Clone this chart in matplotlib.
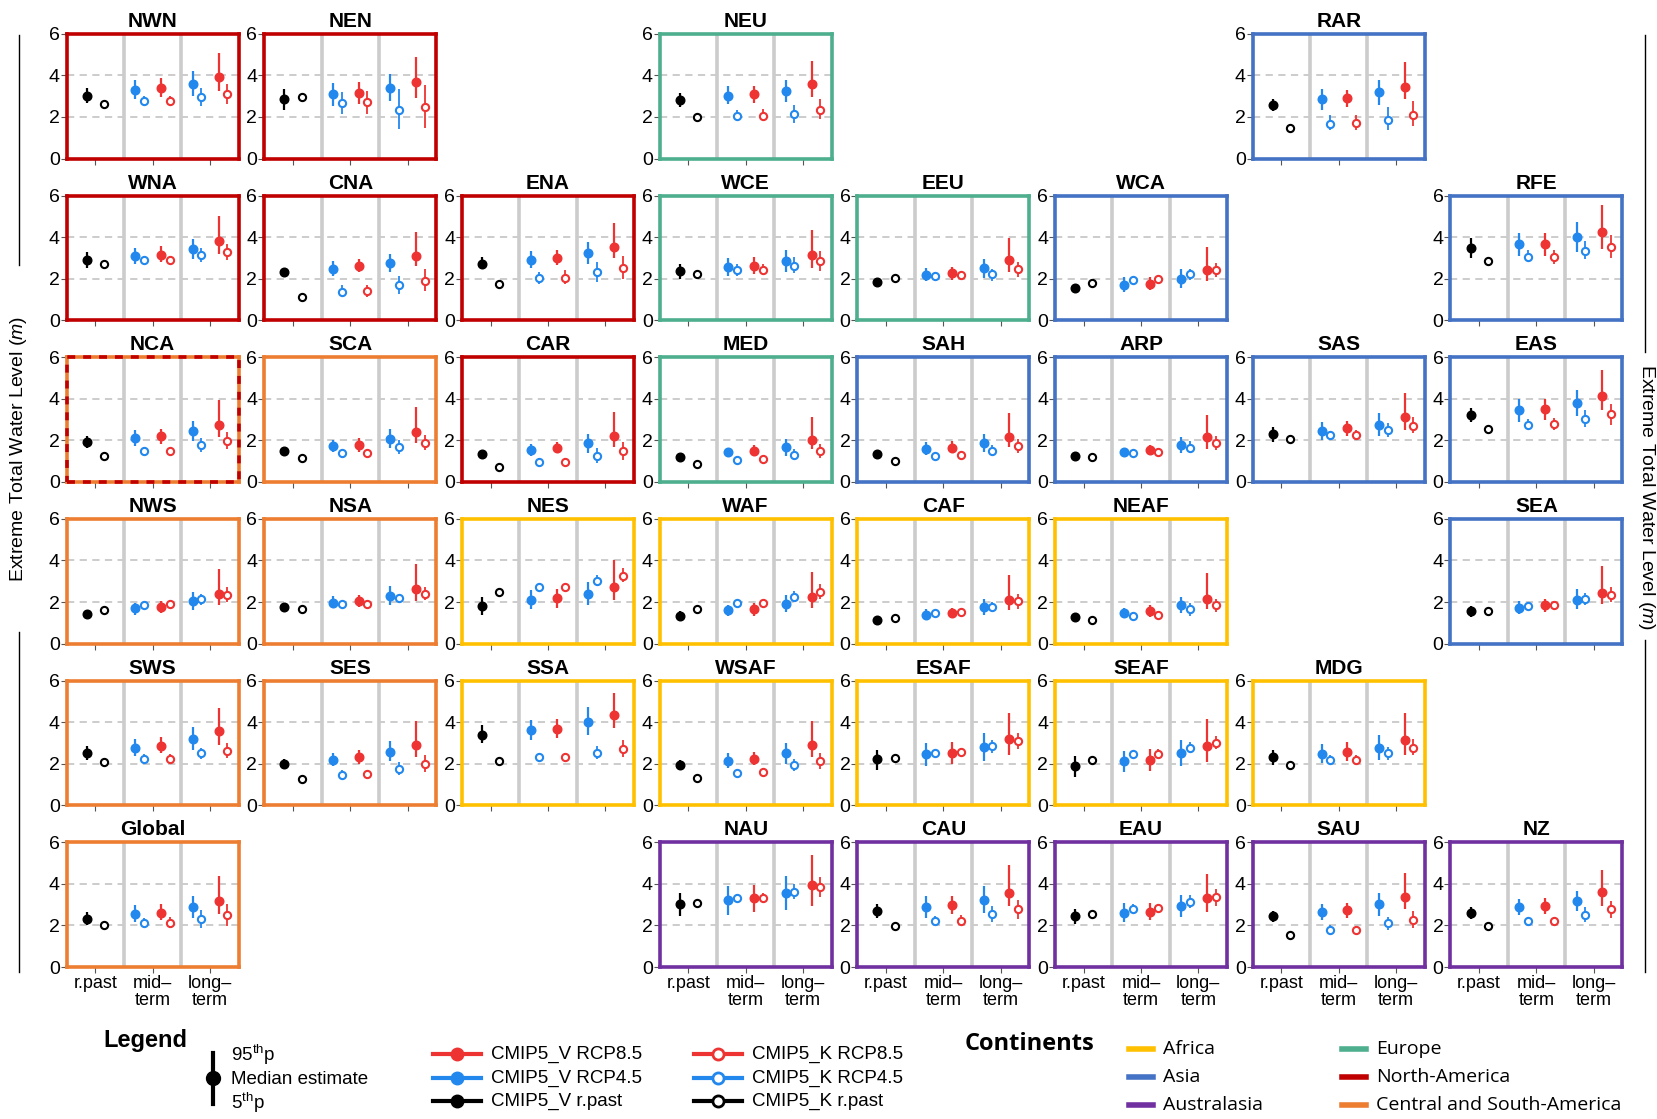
import matplotlib
matplotlib.use('Agg')
import matplotlib.pyplot as plt
from matplotlib.lines import Line2D
from matplotlib.patches import Rectangle

plt.rcParams['font.family'] = 'Liberation Sans'
plt.rcParams['mathtext.fontset'] = 'custom'
plt.rcParams['mathtext.rm'] = 'Liberation Sans'
plt.rcParams['mathtext.it'] = 'Liberation Sans:italic'

W, H = 1657, 1119

# panel layout: name, grid row, grid column, continent
regions = ['NWN', 'NEN', 'NEU', 'RAR',
           'WNA', 'CNA', 'ENA', 'WCE', 'EEU', 'WCA', 'RFE',
           'NCA', 'SCA', 'CAR', 'MED', 'SAH', 'ARP', 'SAS', 'EAS',
           'NWS', 'NSA', 'NES', 'WAF', 'CAF', 'NEAF', 'SEA',
           'SWS', 'SES', 'SSA', 'WSAF', 'ESAF', 'SEAF', 'MDG',
           'Global', 'NAU', 'CAU', 'EAU', 'SAU', 'NZ']
grid_row = [0, 0, 0, 0,
            1, 1, 1, 1, 1, 1, 1,
            2, 2, 2, 2, 2, 2, 2, 2,
            3, 3, 3, 3, 3, 3, 3,
            4, 4, 4, 4, 4, 4, 4,
            5, 5, 5, 5, 5, 5]
grid_col = [0, 1, 3, 6,
            0, 1, 2, 3, 4, 5, 7,
            0, 1, 2, 3, 4, 5, 6, 7,
            0, 1, 2, 3, 4, 5, 7,
            0, 1, 2, 3, 4, 5, 6,
            0, 3, 4, 5, 6, 7]
continent = ['NA', 'NA', 'EU', 'AS',
             'NA', 'NA', 'NA', 'EU', 'EU', 'AS', 'AS',
             'NCA', 'CSA', 'NA', 'EU', 'AS', 'AS', 'AS', 'AS',
             'CSA', 'CSA', 'AF', 'AF', 'AF', 'AF', 'AS',
             'CSA', 'CSA', 'AF', 'AF', 'AF', 'AF', 'AF',
             'CSA', 'AU', 'AU', 'AU', 'AU', 'AU']

# order of the 10 estimates in each panel:
# V r.past, K r.past, V45 mid, K45 mid, V85 mid, K85 mid, V45 long, K45 long, V85 long, K85 long
median = {
    'NWN': [3.0, 2.63, 3.29, 2.75, 3.39, 2.79, 3.6, 2.95, 3.9, 3.1],
    'NEN': [2.84, 2.95, 3.1, 2.66, 3.16, 2.7, 3.39, 2.35, 3.68, 2.48],
    'NEU': [2.82, 1.98, 3.02, 2.05, 3.1, 2.06, 3.26, 2.13, 3.58, 2.34],
    'RAR': [2.58, 1.48, 2.84, 1.65, 2.89, 1.69, 3.19, 1.86, 3.45, 2.09],
    'WNA': [2.9, 2.69, 3.08, 2.9, 3.16, 2.9, 3.42, 3.13, 3.83, 3.26],
    'CNA': [2.32, 1.11, 2.47, 1.37, 2.6, 1.39, 2.74, 1.68, 3.08, 1.87],
    'ENA': [2.69, 1.75, 2.92, 2.02, 3.0, 2.04, 3.21, 2.32, 3.54, 2.51],
    'WCE': [2.37, 2.23, 2.54, 2.41, 2.62, 2.43, 2.84, 2.62, 3.15, 2.84],
    'EEU': [1.85, 2.05, 2.18, 2.15, 2.25, 2.18, 2.5, 2.2, 2.89, 2.44],
    'WCA': [1.53, 1.8, 1.7, 1.95, 1.76, 2.0, 2.0, 2.22, 2.42, 2.4],
    'RFE': [3.48, 2.86, 3.66, 3.05, 3.66, 3.05, 4.02, 3.35, 4.23, 3.53],
    'NCA': [1.92, 1.24, 2.11, 1.48, 2.19, 1.48, 2.45, 1.79, 2.76, 1.97],
    'SCA': [1.47, 1.13, 1.73, 1.37, 1.77, 1.4, 2.08, 1.68, 2.4, 1.89],
    'CAR': [1.32, 0.71, 1.53, 0.95, 1.65, 0.98, 1.85, 1.27, 2.21, 1.47],
    'MED': [1.21, 0.84, 1.42, 1.05, 1.5, 1.08, 1.66, 1.29, 2.0, 1.47],
    'SAH': [1.35, 1.02, 1.6, 1.25, 1.65, 1.28, 1.86, 1.49, 2.17, 1.73],
    'ARP': [1.25, 1.22, 1.44, 1.41, 1.52, 1.44, 1.77, 1.65, 2.14, 1.86],
    'SAS': [2.3, 2.06, 2.43, 2.25, 2.58, 2.27, 2.76, 2.51, 3.11, 2.71],
    'EAS': [3.22, 2.53, 3.45, 2.75, 3.52, 2.77, 3.79, 3.03, 4.13, 3.27],
    'NWS': [1.43, 1.63, 1.7, 1.86, 1.76, 1.9, 2.05, 2.13, 2.4, 2.34],
    'NSA': [1.76, 1.65, 1.97, 1.89, 2.05, 1.92, 2.3, 2.18, 2.62, 2.4],
    'NES': [1.81, 2.47, 2.12, 2.7, 2.18, 2.72, 2.41, 3.03, 2.72, 3.26],
    'WAF': [1.35, 1.68, 1.6, 1.95, 1.65, 1.97, 1.89, 2.25, 2.25, 2.5],
    'CAF': [1.15, 1.23, 1.4, 1.47, 1.47, 1.5, 1.78, 1.78, 2.1, 2.03],
    'NEAF': [1.27, 1.13, 1.48, 1.35, 1.55, 1.38, 1.84, 1.65, 2.17, 1.87],
    'SEA': [1.55, 1.57, 1.73, 1.81, 1.84, 1.84, 2.12, 2.14, 2.45, 2.33],
    'SWS': [2.5, 2.09, 2.78, 2.25, 2.86, 2.25, 3.2, 2.5, 3.57, 2.63],
    'SES': [1.97, 1.27, 2.2, 1.48, 2.34, 1.51, 2.58, 1.76, 2.91, 2.0],
    'SSA': [3.4, 2.12, 3.62, 2.3, 3.68, 2.3, 4.03, 2.53, 4.36, 2.71],
    'WSAF': [1.92, 1.32, 2.14, 1.56, 2.25, 1.6, 2.53, 1.92, 2.88, 2.12],
    'ESAF': [2.23, 2.26, 2.45, 2.53, 2.53, 2.56, 2.81, 2.84, 3.19, 3.11],
    'SEAF': [1.9, 2.2, 2.15, 2.45, 2.2, 2.48, 2.53, 2.78, 2.86, 3.0],
    'MDG': [2.31, 1.93, 2.48, 2.2, 2.56, 2.2, 2.78, 2.51, 3.14, 2.76],
    'Global': [2.33, 2.0, 2.56, 2.12, 2.62, 2.14, 2.87, 2.29, 3.19, 2.48],
    'NAU': [3.05, 3.08, 3.2, 3.34, 3.3, 3.34, 3.58, 3.62, 3.95, 3.85],
    'CAU': [2.69, 1.97, 2.89, 2.23, 2.97, 2.23, 3.2, 2.54, 3.57, 2.77],
    'EAU': [2.46, 2.57, 2.62, 2.8, 2.65, 2.85, 2.95, 3.15, 3.31, 3.35],
    'SAU': [2.43, 1.54, 2.65, 1.77, 2.72, 1.77, 3.03, 2.11, 3.35, 2.28],
    'NZ': [2.6, 1.95, 2.88, 2.2, 2.95, 2.2, 3.18, 2.52, 3.6, 2.77],
}
p5 = {
    'NWN': [2.65, 2.58, 2.85, 2.55, 2.95, 2.55, 3.0, 2.55, 3.24, 2.64],
    'NEN': [2.35, 2.9, 2.55, 2.14, 2.62, 2.15, 2.76, 1.41, 2.9, 1.49],
    'NEU': [2.47, 1.93, 2.61, 1.79, 2.69, 1.82, 2.73, 1.69, 2.98, 1.89],
    'RAR': [2.27, 1.35, 2.35, 1.35, 2.48, 1.38, 2.59, 1.38, 2.84, 1.54],
    'WNA': [2.53, 2.64, 2.7, 2.7, 2.8, 2.7, 2.95, 2.8, 3.18, 2.9],
    'CNA': [2.22, 1.06, 2.13, 1.11, 2.3, 1.13, 2.3, 1.26, 2.6, 1.39],
    'ENA': [2.45, 1.7, 2.53, 1.76, 2.64, 1.76, 2.69, 1.83, 2.97, 1.99],
    'WCE': [2.0, 2.18, 2.12, 2.12, 2.23, 2.18, 2.32, 2.28, 2.53, 2.39],
    'EEU': [1.77, 2.0, 1.9, 1.93, 1.95, 1.98, 2.02, 1.9, 2.34, 2.06],
    'WCA': [1.3, 1.75, 1.35, 1.82, 1.44, 1.84, 1.56, 1.93, 1.9, 2.06],
    'RFE': [2.98, 2.67, 3.1, 2.78, 3.1, 2.72, 3.3, 2.95, 3.41, 3.0],
    'NCA': [1.65, 1.19, 1.73, 1.27, 1.8, 1.3, 1.97, 1.44, 2.16, 1.56],
    'SCA': [1.29, 1.08, 1.44, 1.16, 1.45, 1.21, 1.65, 1.35, 1.85, 1.52],
    'CAR': [1.24, 0.66, 1.24, 0.76, 1.4, 0.79, 1.4, 0.92, 1.69, 1.03],
    'MED': [1.13, 0.79, 1.19, 0.89, 1.27, 0.89, 1.27, 1.03, 1.56, 1.16],
    'SAH': [1.2, 0.97, 1.28, 1.05, 1.38, 1.09, 1.44, 1.25, 1.69, 1.41],
    'ARP': [1.15, 1.17, 1.22, 1.22, 1.28, 1.25, 1.38, 1.38, 1.57, 1.52],
    'SAS': [1.93, 1.99, 2.03, 2.06, 2.22, 2.06, 2.22, 2.17, 2.5, 2.33],
    'EAS': [2.87, 2.43, 2.9, 2.51, 3.0, 2.51, 3.19, 2.63, 3.48, 2.75],
    'NWS': [1.23, 1.58, 1.4, 1.7, 1.48, 1.73, 1.63, 1.86, 1.86, 1.99],
    'NSA': [1.53, 1.6, 1.7, 1.73, 1.76, 1.76, 1.86, 1.97, 2.05, 2.08],
    'NES': [1.38, 2.39, 1.68, 2.5, 1.73, 2.53, 1.84, 2.78, 2.12, 2.95],
    'WAF': [1.12, 1.63, 1.32, 1.8, 1.35, 1.83, 1.5, 2.0, 1.73, 2.17],
    'CAF': [0.95, 1.18, 1.15, 1.3, 1.22, 1.35, 1.38, 1.53, 1.6, 1.68],
    'NEAF': [1.05, 1.08, 1.22, 1.15, 1.27, 1.18, 1.46, 1.35, 1.65, 1.54],
    'SEA': [1.27, 1.52, 1.43, 1.62, 1.51, 1.65, 1.65, 1.87, 1.89, 2.0],
    'SWS': [2.17, 2.04, 2.37, 2.04, 2.5, 2.05, 2.66, 2.22, 2.91, 2.29],
    'SES': [1.73, 1.22, 1.89, 1.3, 2.0, 1.32, 2.12, 1.46, 2.34, 1.6],
    'SSA': [2.99, 2.07, 3.16, 2.09, 3.24, 2.09, 3.4, 2.25, 3.7, 2.34],
    'WSAF': [1.68, 1.27, 1.79, 1.38, 1.92, 1.4, 2.0, 1.63, 2.34, 1.76],
    'ESAF': [1.7, 2.21, 1.9, 2.31, 1.98, 2.35, 2.15, 2.53, 2.4, 2.73],
    'SEAF': [1.37, 2.15, 1.6, 2.26, 1.65, 2.28, 1.9, 2.51, 2.1, 2.69],
    'MDG': [1.93, 1.88, 2.03, 1.98, 2.11, 2.01, 2.18, 2.2, 2.43, 2.4],
    'Global': [2.02, 1.95, 2.15, 1.89, 2.25, 1.89, 2.36, 1.89, 2.57, 1.97],
    'NAU': [2.46, 3.03, 2.49, 3.15, 2.65, 3.15, 2.74, 3.28, 2.95, 3.38],
    'CAU': [2.34, 1.92, 2.35, 2.03, 2.54, 2.03, 2.58, 2.15, 2.92, 2.31],
    'EAU': [2.08, 2.52, 2.18, 2.62, 2.26, 2.65, 2.42, 2.85, 2.65, 2.95],
    'SAU': [2.15, 1.49, 2.26, 1.54, 2.34, 1.57, 2.46, 1.8, 2.77, 1.88],
    'NZ': [2.3, 1.9, 2.48, 2.02, 2.56, 2.02, 2.68, 2.17, 2.94, 2.36],
}
p95 = {
    'NWN': [3.4, 2.68, 3.8, 3.0, 3.86, 3.03, 4.2, 3.37, 5.1, 3.6],
    'NEN': [3.32, 3.0, 3.65, 3.2, 3.7, 3.24, 4.07, 3.35, 4.9, 3.52],
    'NEU': [3.15, 2.03, 3.47, 2.34, 3.51, 2.37, 3.79, 2.58, 4.68, 2.87],
    'RAR': [2.87, 1.67, 3.32, 2.09, 3.28, 2.11, 3.78, 2.46, 4.62, 2.76],
    'WNA': [3.26, 2.74, 3.47, 3.1, 3.58, 3.1, 3.9, 3.45, 5.0, 3.66],
    'CNA': [2.42, 1.16, 2.84, 1.7, 2.95, 1.7, 3.2, 2.15, 4.22, 2.45],
    'ENA': [3.02, 1.8, 3.33, 2.33, 3.38, 2.4, 3.75, 2.82, 4.7, 3.1],
    'WCE': [2.69, 2.28, 2.98, 2.72, 3.05, 2.72, 3.38, 3.05, 4.32, 3.34],
    'EEU': [1.93, 2.1, 2.5, 2.34, 2.57, 2.39, 2.96, 2.47, 3.97, 2.8],
    'WCA': [1.75, 1.85, 2.06, 2.1, 2.1, 2.16, 2.47, 2.47, 3.5, 2.75],
    'RFE': [3.95, 3.05, 4.2, 3.38, 4.2, 3.38, 4.72, 3.82, 5.53, 4.11],
    'NCA': [2.2, 1.29, 2.5, 1.69, 2.56, 1.69, 2.94, 2.13, 3.94, 2.4],
    'SCA': [1.65, 1.18, 2.02, 1.56, 2.1, 1.56, 2.53, 2.02, 3.61, 2.24],
    'CAR': [1.4, 0.76, 1.84, 1.16, 1.92, 1.16, 2.32, 1.65, 3.37, 1.94],
    'MED': [1.29, 0.89, 1.65, 1.24, 1.76, 1.27, 2.05, 1.56, 3.1, 1.81],
    'SAH': [1.5, 1.07, 1.93, 1.44, 1.98, 1.49, 2.3, 1.77, 3.3, 2.06],
    'ARP': [1.35, 1.27, 1.65, 1.6, 1.77, 1.65, 2.14, 1.98, 3.23, 2.22],
    'SAS': [2.66, 2.13, 2.87, 2.46, 2.95, 2.5, 3.3, 2.84, 4.3, 3.11],
    'EAS': [3.57, 2.63, 4.0, 3.03, 4.0, 3.06, 4.44, 3.44, 5.38, 3.76],
    'NWS': [1.6, 1.68, 1.97, 2.02, 2.06, 2.05, 2.5, 2.4, 3.6, 2.7],
    'NSA': [1.97, 1.7, 2.3, 2.05, 2.35, 2.08, 2.76, 2.4, 3.85, 2.73],
    'NES': [2.25, 2.55, 2.57, 2.9, 2.63, 2.9, 2.98, 3.28, 4.0, 3.65],
    'WAF': [1.56, 1.73, 1.86, 2.1, 1.94, 2.12, 2.35, 2.55, 3.45, 2.88],
    'CAF': [1.32, 1.28, 1.65, 1.63, 1.7, 1.65, 2.15, 2.02, 3.3, 2.4],
    'NEAF': [1.46, 1.18, 1.73, 1.54, 1.84, 1.59, 2.25, 1.93, 3.38, 2.17],
    'SEA': [1.81, 1.62, 2.05, 2.0, 2.17, 2.0, 2.61, 2.42, 3.73, 2.74],
    'SWS': [2.86, 2.14, 3.2, 2.47, 3.27, 2.47, 3.78, 2.78, 4.69, 2.99],
    'SES': [2.22, 1.32, 2.5, 1.68, 2.66, 1.71, 3.08, 2.09, 4.06, 2.42],
    'SSA': [3.85, 2.17, 4.11, 2.5, 4.14, 2.5, 4.75, 2.83, 5.38, 3.13],
    'WSAF': [2.17, 1.37, 2.5, 1.76, 2.58, 1.79, 3.0, 2.22, 4.06, 2.5],
    'ESAF': [2.68, 2.31, 2.98, 2.73, 3.06, 2.78, 3.47, 3.14, 4.43, 3.5],
    'SEAF': [2.35, 2.25, 2.61, 2.65, 2.69, 2.69, 3.14, 3.06, 4.13, 3.35],
    'MDG': [2.68, 1.98, 2.94, 2.43, 3.03, 2.44, 3.39, 2.81, 4.43, 3.17],
    'Global': [2.64, 2.05, 2.98, 2.36, 3.02, 2.39, 3.44, 2.74, 4.4, 3.04],
    'NAU': [3.57, 3.13, 3.89, 3.51, 3.95, 3.54, 4.38, 3.97, 5.38, 4.31],
    'CAU': [3.03, 2.02, 3.42, 2.46, 3.42, 2.49, 3.89, 2.92, 4.89, 3.2],
    'EAU': [2.8, 2.62, 3.08, 3.05, 3.08, 3.05, 3.46, 3.46, 4.49, 3.77],
    'SAU': [2.69, 1.59, 3.03, 2.0, 3.08, 1.97, 3.57, 2.42, 4.54, 2.69],
    'NZ': [2.87, 2.0, 3.25, 2.4, 3.33, 2.4, 3.64, 2.87, 4.68, 3.17],
}

term_labels = ['r.past', 'mid\u2013\nterm', 'long\u2013\nterm']
series_labels = ['CMIP5_V RCP8.5', 'CMIP5_V RCP4.5', 'CMIP5_V r.past',
                 'CMIP5_K RCP8.5', 'CMIP5_K RCP4.5', 'CMIP5_K r.past']
continent_names = ['Africa', 'Asia', 'Australasia',
                   'Europe', 'North-America', 'Central and South-America']

red = '#EE3333'
blue = '#2288EE'
black = '#000000'
frame_colors = {'AF': '#FFC000', 'AS': '#4472C4', 'AU': '#7030A0',
                'EU': '#4DAF8E', 'NA': '#C00000', 'CSA': '#ED7D31',
                'NCA': '#ED7D31'}
legend_cont_colors = ['#FFC000', '#4472C4', '#7030A0',
                      '#4DAF8E', '#C00000', '#ED7D31']

pt_x = [0.35, 0.65, 1.2, 1.35, 1.65, 1.8, 2.2, 2.35, 2.65, 2.8]
pt_color = [black, black, blue, blue, red, red, blue, blue, red, red]
pt_filled = [True, False] * 5


def fx(x):
    return x / W


def fy(y):
    return 1 - y / H


fig = plt.figure(figsize=(W / 100, H / 100), dpi=100)

x0, dx, bw = 66.6, 197.7, 172.0
y0, dy, bh = 33.8, 161.7, 124.7

for name, r, c, cont in zip(regions, grid_row, grid_col, continent):
    left = x0 + c * dx
    top = y0 + r * dy
    ax = fig.add_axes([fx(left), fy(top + bh), bw / W, bh / H])
    ax.set_xlim(0, 3)
    ax.set_ylim(0, 6)

    for yy in [2, 4]:
        ax.axhline(yy, color='#c8c8c8', lw=1.3, ls=(0, (4, 3)), zorder=0)
    for xx in [1, 2]:
        ax.axvline(xx, color='#cccccc', lw=2.6, zorder=0)

    for i in range(10):
        col = pt_color[i]
        lw = 1.6 if pt_filled[i] else 1.3
        ax.plot([pt_x[i], pt_x[i]], [p5[name][i], p95[name][i]],
                color=col, lw=lw, solid_capstyle='butt', zorder=2)
        if pt_filled[i]:
            ax.plot(pt_x[i], median[name][i], 'o', ms=6.2, color=col,
                    mec=col, zorder=3)
        else:
            ax.plot(pt_x[i], median[name][i], 'o', ms=5.2, mfc='white',
                    mec=col, mew=1.5, zorder=3)

    for sp in ax.spines.values():
        sp.set_color(frame_colors[cont])
        sp.set_linewidth(2.6)
    if cont == 'NCA':
        ax.add_patch(Rectangle((0, 0), 1, 1, transform=ax.transAxes,
                               fill=False, ec='#C00000', lw=2.6,
                               ls=(0, (2.2, 2.2)), clip_on=False, zorder=5))

    ax.set_yticks([0, 2, 4, 6])
    ax.set_xticks([0.5, 1.5, 2.5])
    ax.tick_params(axis='y', labelsize=14, length=4, width=0.8,
                   color='#555555', pad=1)
    ax.tick_params(axis='x', labelsize=13, length=4, width=0.8,
                   color='#555555', pad=2)
    if r == 5:
        ax.set_xticklabels(term_labels, linespacing=1.0)
    else:
        ax.set_xticklabels([])
    ax.set_title(name, fontweight='bold', fontsize=15, pad=5)

# side labels and lines
ylab = 'Extreme Total Water Level ($\\it{m}$)'
fig.text(fx(19), fy(449), ylab, rotation=90, ha='center', va='center',
         fontsize=14)
fig.text(fx(1646), fy(497), ylab, rotation=270, ha='center', va='center',
         fontsize=14)
for xx, segs in [(19, [(35, 265), (632, 972)]),
                 (1645, [(35, 352), (640, 972)])]:
    for ya, yb in segs:
        fig.add_artist(Line2D([fx(xx), fx(xx)], [fy(ya), fy(yb)],
                              transform=fig.transFigure, color='black',
                              lw=1.0))

# legend block
fig.text(fx(145), fy(1040), 'Legend', fontweight='bold', fontsize=17,
         ha='center', va='center')
fig.add_artist(Line2D([fx(213), fx(213)], [fy(1053), fy(1104)],
                      transform=fig.transFigure, color='black', lw=3))
fig.add_artist(Line2D([fx(213)], [fy(1078)], transform=fig.transFigure,
                      marker='o', ms=10, color='black'))
fig.text(fx(231), fy(1055), '95$^{\\mathrm{th}}$p', fontsize=13.5,
         va='center')
fig.text(fx(231), fy(1079), 'Median estimate', fontsize=13.5, va='center')
fig.text(fx(231), fy(1103), '5$^{\\mathrm{th}}$p', fontsize=13.5,
         va='center')

leg_colors = [red, blue, black, red, blue, black]
leg_filled = [True, True, True, False, False, False]
leg_x = [433, 433, 433, 694, 694, 694]
leg_y = [1054, 1078, 1101, 1054, 1078, 1101]
for lab, col, fill, lx, ly in zip(series_labels, leg_colors, leg_filled,
                                  leg_x, leg_y):
    fig.add_artist(Line2D([fx(lx), fx(lx + 48)], [fy(ly), fy(ly)],
                          transform=fig.transFigure, color=col, lw=3))
    if fill:
        fig.add_artist(Line2D([fx(lx + 24)], [fy(ly)],
                              transform=fig.transFigure, marker='o', ms=9,
                              color=col))
    else:
        fig.add_artist(Line2D([fx(lx + 24)], [fy(ly)],
                              transform=fig.transFigure, marker='o', ms=8,
                              mfc='white', mec=col, mew=2))
    fig.text(fx(lx + 58), fy(ly), lab, fontsize=13.5, va='center')

fig.text(fx(1030), fy(1044), 'Continents', fontweight='bold', fontsize=17,
         family='Open Sans', ha='center', va='center')
cont_x = [1129, 1129, 1129, 1342, 1342, 1342]
cont_y = [1049, 1077, 1105, 1049, 1077, 1105]
for lab, col, cx, cy in zip(continent_names, legend_cont_colors, cont_x,
                            cont_y):
    fig.add_artist(Line2D([fx(cx), fx(cx + 24)], [fy(cy), fy(cy)],
                          transform=fig.transFigure, color=col, lw=4))
    fig.text(fx(cx + 34), fy(cy), lab, fontsize=14, family='Open Sans',
             va='center')

fig.savefig('out.png', dpi=100)
